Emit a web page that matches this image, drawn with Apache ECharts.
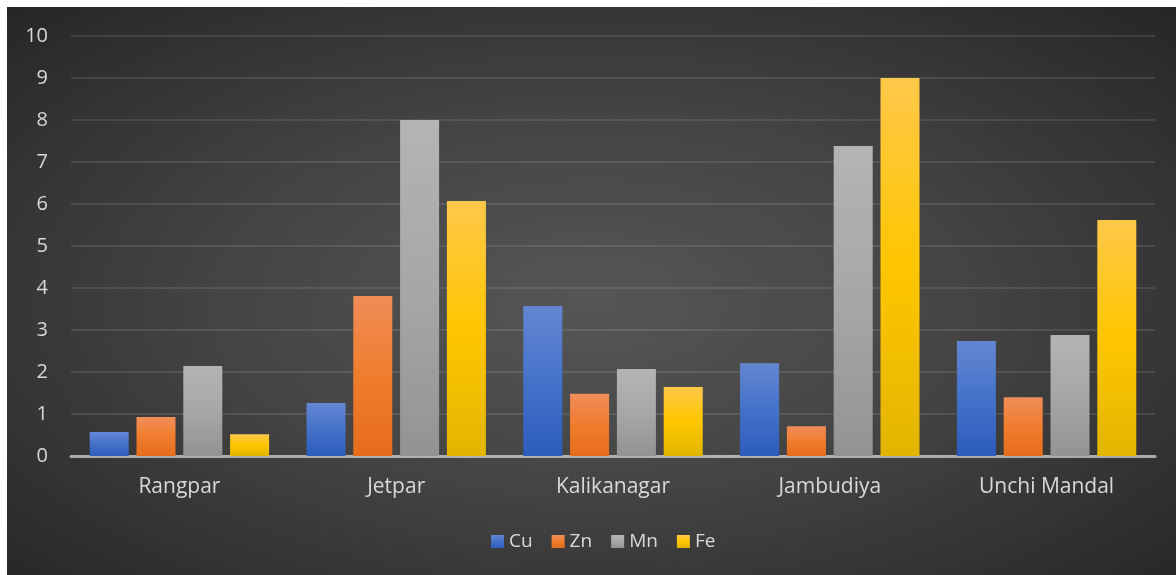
<!DOCTYPE html>
<html>
<head>
<meta charset="utf-8">
<script src="https://cdn.jsdelivr.net/npm/echarts@6/dist/echarts.min.js"></script>
<style>
  html, body { margin: 0; padding: 0; background: #ffffff; }
  #chart {
    position: absolute; left: 7px; top: 7px; width: 1169px; height: 568px;
    background: radial-gradient(ellipse at 50% 52%, #565656 0%, #444444 45%, #262626 100%);
  }
</style>
</head>
<body>
<div id="chart"></div>
<script>
// 数据
const categories = ['Rangpar', 'Jetpar', 'Kalikanagar', 'Jambudiya', 'Unchi Mandal'];
const cuData = [0.57, 1.26, 3.57, 2.21, 2.74];
const znData = [0.93, 3.81, 1.48, 0.71, 1.40];
const mnData = [2.14, 8.0, 2.07, 7.38, 2.88];
const feData = [0.52, 6.07, 1.64, 9.0, 5.62];

// 柱子渐变色（上浅下深）
function grad(top, mid, bottom) {
  return new echarts.graphic.LinearGradient(0, 0, 0, 1, [
    { offset: 0, color: top },
    { offset: 0.5, color: mid },
    { offset: 1, color: bottom }
  ]);
}

function barSeries(name, data, color) {
  return {
    name: name,
    type: 'bar',
    barWidth: 39,
    barGap: '20%',
    data: data,
    itemStyle: {
      color: color,
      shadowBlur: 6,
      shadowOffsetX: 2,
      shadowOffsetY: 1,
      shadowColor: 'rgba(0,0,0,0.55)'
    }
  };
}

const option = {
  backgroundColor: 'transparent',
  color: ['#4472c4', '#ed7d31', '#a5a5a5', '#ffc000'],
  textStyle: { fontFamily: '"Open Sans", "Noto Sans", sans-serif' },
  grid: { left: 64, right: 21, top: 29, bottom: 119 },
  legend: {
    top: 520,
    left: 479,
    itemWidth: 13,
    itemHeight: 13,
    itemGap: 19,
    icon: 'rect',
    textStyle: { color: '#d9d9d9', fontSize: 19 },
    data: ['Cu', 'Zn', 'Mn', 'Fe']
  },
  xAxis: {
    type: 'category',
    data: categories,
    axisLine: { lineStyle: { color: 'rgba(217,217,217,0.7)', width: 3 } },
    axisTick: { show: false },
    axisLabel: { color: '#d9d9d9', fontSize: 21, margin: 21 }
  },
  yAxis: {
    type: 'value',
    min: 0,
    max: 10,
    interval: 1,
    axisLine: { show: false },
    axisTick: { show: false },
    axisLabel: { color: '#d9d9d9', fontSize: 20, margin: 23 },
    splitLine: { lineStyle: { color: 'rgba(255,255,255,0.1)', width: 2 } }
  },
  series: [
    barSeries('Cu', cuData, grad('#6486d2', '#4472c9', '#2c5dbd')),
    barSeries('Zn', znData, grad('#f08d58', '#f07d2e', '#e66c1a')),
    barSeries('Mn', mnData, grad('#b4b4b4', '#a7a7a7', '#939393')),
    barSeries('Fe', feData, grad('#ffc84a', '#ffc600', '#e2b500'))
  ]
};

const chart = echarts.init(document.getElementById('chart'));
chart.setOption(option);
</script>
</body>
</html>
